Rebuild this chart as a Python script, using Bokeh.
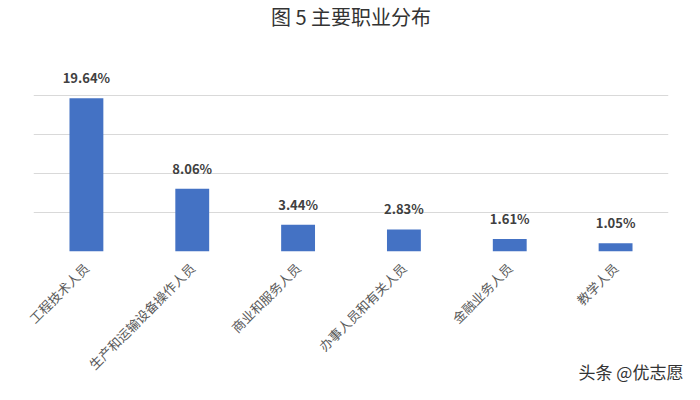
from bokeh.plotting import figure
from bokeh.models import Range1d, FactorRange, FixedTicker, ColumnDataSource, Label
from bokeh.core.properties import value
from bokeh.embed import file_html
from bokeh.resources import INLINE
import math

categories = ["工程技术人员", "生产和运输设备操作人员", "商业和服务人员", "办事人员和有关人员", "金融业务人员", "教学人员"]
values = [19.64, 8.06, 3.44, 2.83, 1.61, 1.05]
labels = ["19.64%", "8.06%", "3.44%", "2.83%", "1.61%", "1.05%"]
grid_ticks = [0, 5, 10, 15, 20, 25]

FONT = "Noto Sans CJK SC"

source = ColumnDataSource(dict(cat=categories, val=values, lab=labels))

p = figure(x_range=FactorRange(*categories, range_padding=0), y_range=Range1d(0, 25),
           width=684, height=384,
           min_border_left=33, min_border_right=16, min_border_top=54, min_border_bottom=133,
           output_backend="svg", toolbar_location=None,
           title="图 5 主要职业分布")

p.title.align = "center"
p.title.vertical_align = "middle"
p.title.text_font = FONT
p.title.text_font_size = "20px"
p.title.text_font_style = "normal"
p.title.text_color = "#333333"
p.title.standoff = 0

p.vbar(x="cat", top="val", width=0.32, source=source, color="#4472C4", line_color=None)
p.text(x="cat", y="val", text="lab", source=source, text_align="center", text_baseline="bottom",
       y_offset=-11, text_font=value(FONT), text_font_size="13px", text_font_style="bold",
       text_color="#404040")

p.yaxis.visible = False
p.ygrid.ticker = FixedTicker(ticks=grid_ticks)
p.ygrid.grid_line_color = "#D9D9D9"
p.xgrid.grid_line_color = None
p.outline_line_color = None

xa = p.xaxis[0]
xa.axis_line_color = None
xa.major_tick_line_color = None
xa.minor_tick_line_color = None
xa.major_label_orientation = math.pi / 4
xa.major_label_text_font = FONT
xa.major_label_text_font_size = "13px"
xa.major_label_text_color = "#595959"
xa.major_label_standoff = 8

p.add_layout(Label(x=545, y=-327, x_units="screen", y_units="screen", text="头条 @优志愿",
                   text_font=FONT, text_font_size="17px", text_color="#333333"), "above")

open("out.html", "w").write(file_html(p, INLINE))
